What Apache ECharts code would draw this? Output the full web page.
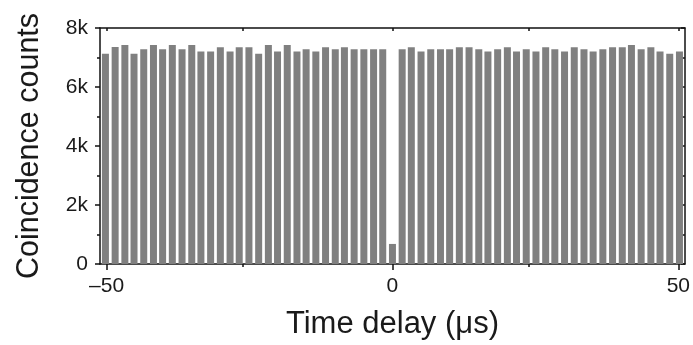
<!DOCTYPE html>
<html>
<head>
<meta charset="utf-8">
<script src="https://cdn.jsdelivr.net/npm/echarts@6/dist/echarts.min.js"></script>
<style>
html,body{margin:0;padding:0;background:#fff;}
#chart{width:693px;height:345px;}
</style>
</head>
<body>
<div id="chart"></div>
<script>
// Bin centres (time delay, µs)
var delays = [
  -50.2, -48.5, -46.8, -45.2, -43.5, -41.8, -40.2, -38.5, -36.8, -35.1,
  -33.5, -31.8, -30.1, -28.4, -26.8, -25.1, -23.4, -21.7, -20.1, -18.4,
  -16.7, -15.1, -13.4, -11.7, -10.0, -8.4, -6.7, -5.0, -3.3, -1.7,
  0,
  1.7, 3.3, 5.0, 6.7, 8.4, 10.0, 11.7, 13.4, 15.1, 16.7,
  18.4, 20.1, 21.7, 23.4, 25.1, 26.8, 28.4, 30.1, 31.8, 33.5,
  35.1, 36.8, 38.5, 40.2, 41.8, 43.5, 45.2, 46.8, 48.5, 50.2
];
// Coincidence counts per bin
var counts = [
  7130, 7360, 7420, 7130, 7280, 7420, 7280, 7420, 7280, 7420,
  7200, 7200, 7350, 7200, 7350, 7350, 7130, 7420, 7200, 7420,
  7200, 7280, 7200, 7350, 7280, 7350, 7280, 7280, 7280, 7280,
  680,
  7280, 7350, 7200, 7280, 7280, 7280, 7350, 7350, 7280, 7200,
  7280, 7350, 7200, 7280, 7200, 7350, 7280, 7200, 7350, 7280,
  7200, 7280, 7350, 7350, 7420, 7280, 7350, 7200, 7130, 7200
];
var yTicks = [0, 2000, 4000, 6000, 8000];
var xTicks = [-50, 0, 50];

var FONT = 'Liberation Sans, Arial, sans-serif';
var AX = '#111';
var TXT = '#1a1a1a';
var chart = echarts.init(document.getElementById('chart'), null, {renderer: 'canvas'});
var data = delays.map(function (d, i) { return [d, counts[i]]; });

chart.setOption({
  animation: false,
  backgroundColor: '#fff',
  grid: {left: 100, right: 7, top: 28, bottom: 80, containLabel: false},
  xAxis: [{
    type: 'value', min: -51.15, max: 51.15, interval: 50,
    position: 'bottom',
    name: 'Time delay (\u03bcs)', nameLocation: 'middle', nameGap: 45,
    nameTextStyle: {fontFamily: FONT, fontSize: 31, color: TXT},
    axisLine: {show: true, onZero: false, lineStyle: {color: AX, width: 1.5}},
    axisTick: {show: true, inside: false, length: 6, lineStyle: {color: AX, width: 1.5},
      customValues: xTicks},
    minorTick: {show: true, splitNumber: 2, length: 3, lineStyle: {color: AX, width: 1.5}},
    axisLabel: {show: true, fontFamily: FONT, fontSize: 21, color: TXT, margin: 12,
      customValues: xTicks,
      formatter: function (v) { return v < 0 ? '\u2013' + Math.abs(v) : String(v); }},
    splitLine: {show: false}
  }, {
    type: 'value', min: -51.15, max: 51.15, interval: 50,
    position: 'top',
    axisLine: {show: true, onZero: false, lineStyle: {color: AX, width: 1.5}},
    axisTick: {show: true, inside: true, length: 3, lineStyle: {color: AX, width: 1.5},
      customValues: xTicks},
    minorTick: {show: true, splitNumber: 2, length: 3, lineStyle: {color: AX, width: 1.5}},
    axisLabel: {show: false},
    splitLine: {show: false}
  }],
  yAxis: [{
    type: 'value', min: 0, max: 8000, interval: 2000,
    position: 'left',
    name: 'Coincidence counts', nameLocation: 'middle', nameGap: 55,
    nameTextStyle: {fontFamily: FONT, fontSize: 30.5, color: TXT},
    axisLine: {show: true, onZero: false, lineStyle: {color: AX, width: 1.5}},
    axisTick: {show: true, inside: false, length: 5, lineStyle: {color: AX, width: 1.5}},
    minorTick: {show: true, splitNumber: 2, length: 3, lineStyle: {color: AX, width: 1.5}},
    axisLabel: {show: true, fontFamily: FONT, fontSize: 21, color: TXT, margin: 12,
      customValues: yTicks,
      formatter: function (v) { return v === 0 ? '0' : (v / 1000) + 'k'; }},
    splitLine: {show: false}
  }, {
    type: 'value', min: 0, max: 8000, interval: 2000,
    position: 'right',
    axisLine: {show: true, onZero: false, lineStyle: {color: AX, width: 1.5}},
    axisTick: {show: true, inside: true, length: 4, lineStyle: {color: AX, width: 1.5}},
    minorTick: {show: true, splitNumber: 2, length: 4, lineStyle: {color: AX, width: 1.5}},
    axisLabel: {show: false},
    splitLine: {show: false}
  }],
  series: [{
    type: 'bar',
    xAxisIndex: 0, yAxisIndex: 0,
    data: data,
    barWidth: 7,
    itemStyle: {color: '#808080'},
    emphasis: {disabled: true},
    z: 1
  }]
});
</script>
</body>
</html>
